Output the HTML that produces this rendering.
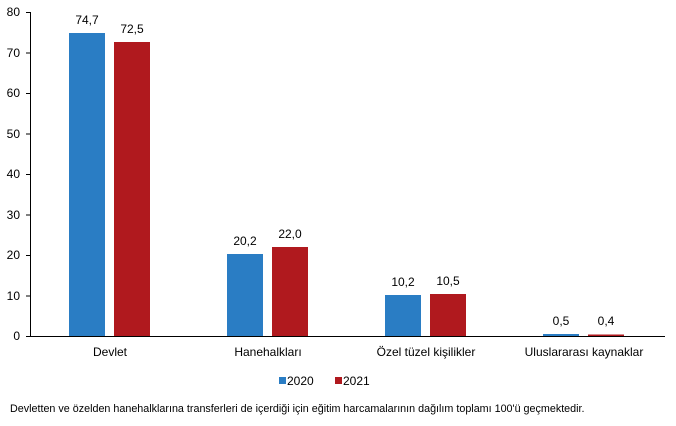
<!DOCTYPE html>
<html><head><style>body{margin:0;background:#fff}svg{display:block;font-family:"Liberation Sans",Arial,sans-serif}</style></head>
<body>
<svg width="676" height="426" xmlns="http://www.w3.org/2000/svg">
<g font-size="12" fill="#000" text-anchor="end">
<text x="20" y="16">80</text><text x="20" y="57">70</text><text x="20" y="97">60</text><text x="20" y="138">50</text><text x="20" y="178">40</text><text x="20" y="219">30</text><text x="20" y="259">20</text><text x="20" y="300">10</text><text x="20" y="340">0</text>
</g>
<g stroke="#000" stroke-width="1">
<line x1="30.5" y1="12" x2="30.5" y2="336"/>
<line x1="26" y1="336.5" x2="665" y2="336.5"/>
<line x1="26" y1="12.5" x2="30" y2="12.5"/><line x1="26" y1="53" x2="30" y2="53"/><line x1="26" y1="93.5" x2="30" y2="93.5"/><line x1="26" y1="134" x2="30" y2="134"/><line x1="26" y1="174.5" x2="30" y2="174.5"/><line x1="26" y1="215" x2="30" y2="215"/><line x1="26" y1="255.5" x2="30" y2="255.5"/><line x1="26" y1="296" x2="30" y2="296"/>
</g>
<g fill="#2a7dc4">
<rect x="69" y="33" width="36" height="303"/>
<rect x="227" y="254" width="36" height="82"/>
<rect x="385" y="295" width="36" height="41"/>
<rect x="543" y="334" width="36" height="2"/>
</g>
<g fill="#b0191e">
<rect x="114" y="42" width="36" height="294"/>
<rect x="272" y="247" width="36" height="89"/>
<rect x="430" y="294" width="36" height="42"/>
<rect x="588" y="334.5" width="36" height="1.5"/>
</g>
<g font-size="12" text-anchor="middle">
<text x="87" y="24">74,7</text><text x="132" y="33">72,5</text>
<text x="245" y="245">20,2</text><text x="290" y="238">22,0</text>
<text x="403" y="286">10,2</text><text x="448" y="285">10,5</text>
<text x="561" y="325">0,5</text><text x="606" y="325">0,4</text>
<text x="110" y="356">Devlet</text><text x="268" y="356">Hanehalkları</text><text x="426" y="356">Özel tüzel kişilikler</text><text x="584" y="356">Uluslararası kaynaklar</text>
</g>
<rect x="279" y="377" width="7" height="7" fill="#2a7dc4"/>
<text x="287" y="385" font-size="12">2020</text>
<rect x="335" y="377" width="7" height="7" fill="#b0191e"/>
<text x="343" y="385" font-size="12">2021</text>
<text x="10" y="412" font-size="10.75">Devletten ve özelden hanehalklarına transferleri de içerdiği için eğitim harcamalarının dağılım toplamı 100'ü geçmektedir.</text>
</svg>
</body></html>
